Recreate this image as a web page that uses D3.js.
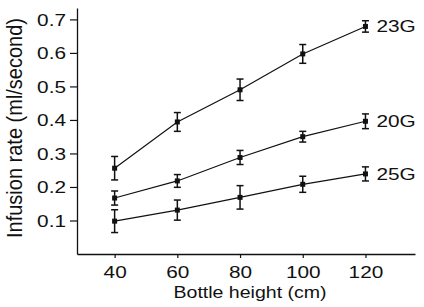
<!DOCTYPE html>
<html>
<head>
<meta charset="utf-8">
<script src="https://cdn.jsdelivr.net/npm/d3@7"></script>
<style>
  html, body { margin: 0; padding: 0; background: #fff; }
  svg { display: block; font-family: "Liberation Sans", Arial, Helvetica, sans-serif; }
</style>
</head>
<body>
<svg id="chart" width="424" height="307"></svg>
<script>
// ---- Data ----
const heights = [40, 60, 80, 100, 120];
const seriesNames = ["23G", "20G", "25G"];
const rate23G = [0.256, 0.394, 0.490, 0.597, 0.679];
const err23G  = [0.035, 0.028, 0.032, 0.028, 0.017];
const rate20G = [0.167, 0.218, 0.288, 0.350, 0.396];
const err20G  = [0.021, 0.019, 0.021, 0.016, 0.022];
const rate25G = [0.098, 0.131, 0.169, 0.208, 0.239];
const err25G  = [0.034, 0.030, 0.035, 0.024, 0.021];
const xTicks = [40, 60, 80, 100, 120];
const yTicks = [0.1, 0.2, 0.3, 0.4, 0.5, 0.6, 0.7];
const xTitle = "Bottle height (cm)";
const yTitle = "Infusion rate (ml/second)";

const series = [
  { name: seriesNames[0], values: rate23G, errs: err23G },
  { name: seriesNames[1], values: rate20G, errs: err20G },
  { name: seriesNames[2], values: rate25G, errs: err25G }
];

// ---- Layout ----
const svg = d3.select("#chart");
const x = d3.scaleLinear().domain([28, 135.8]).range([77, 415]);
const y = d3.scaleLinear().domain([0, 0.734]).range([254, 8]);
const ink = "#111";
const SX = 1.3;   // horizontal stretch of small labels
const ST = 1.15;  // horizontal stretch of titles

// Y axis
const yAxis = svg.append("g")
  .attr("transform", `translate(${x.range()[0]},0)`)
  .call(d3.axisLeft(y).tickValues(yTicks).tickSize(7).tickSizeOuter(0).tickFormat(d3.format(".1f")));
yAxis.select(".domain").attr("stroke", ink).attr("stroke-width", 1.3);
yAxis.selectAll(".tick line").attr("stroke", ink).attr("stroke-width", 1.2);
yAxis.selectAll(".tick text")
  .attr("x", -11 / SX)
  .attr("dy", "0.36em")
  .attr("transform", `scale(${SX},1)`)
  .attr("fill", ink)
  .style("font-size", "16px")
  .style("font-family", "'Liberation Sans', Arial, sans-serif");

// X axis
const xAxis = svg.append("g")
  .attr("transform", `translate(0,${y.range()[0]})`)
  .call(d3.axisBottom(x).tickValues(xTicks).tickSize(4).tickSizeOuter(0));
xAxis.select(".domain").attr("stroke", ink).attr("stroke-width", 1.3);
xAxis.selectAll(".tick line").attr("stroke", ink).attr("stroke-width", 1.2);
xAxis.selectAll(".tick text")
  .attr("y", 24.5)
  .attr("dy", "0")
  .attr("transform", `scale(${SX},1)`)
  .attr("fill", ink)
  .style("font-size", "16px")
  .style("font-family", "'Liberation Sans', Arial, sans-serif");

// Lines
const line = d3.line().x((d, i) => x(heights[i])).y(d => y(d));
const g = svg.append("g");
series.forEach(s => {
  g.append("path")
    .attr("d", line(s.values))
    .attr("fill", "none")
    .attr("stroke", ink)
    .attr("stroke-width", 1.2);

  const pts = g.selectAll(null).data(s.values.map((v, i) => ({ h: heights[i], v, e: s.errs[i] })))
    .enter().append("g");
  // error bars
  pts.append("line")
    .attr("x1", d => x(d.h)).attr("x2", d => x(d.h))
    .attr("y1", d => y(d.v - d.e)).attr("y2", d => y(d.v + d.e))
    .attr("stroke", ink).attr("stroke-width", 1.5);
  pts.append("line")
    .attr("x1", d => x(d.h) - 3.5).attr("x2", d => x(d.h) + 3.5)
    .attr("y1", d => y(d.v + d.e)).attr("y2", d => y(d.v + d.e))
    .attr("stroke", ink).attr("stroke-width", 1.5);
  pts.append("line")
    .attr("x1", d => x(d.h) - 3.5).attr("x2", d => x(d.h) + 3.5)
    .attr("y1", d => y(d.v - d.e)).attr("y2", d => y(d.v - d.e))
    .attr("stroke", ink).attr("stroke-width", 1.5);
  // markers
  pts.append("rect")
    .attr("x", d => x(d.h) - 2.5).attr("y", d => y(d.v) - 2.5)
    .attr("width", 5).attr("height", 5)
    .attr("fill", ink);

  // series label
  const last = s.values.length - 1;
  const lx = x(heights[last]) + 11;
  const ly = y(s.values[last]);
  g.append("text")
    .attr("transform", `translate(${lx},${ly}) scale(${SX},1)`)
    .attr("dy", "0.36em")
    .attr("fill", ink)
    .style("font-size", "16px")
    .text(s.name);
});

// Titles
svg.append("text")
  .attr("transform", `translate(250,297.5) scale(${ST},1)`)
  .attr("text-anchor", "middle")
  .attr("fill", ink)
  .style("font-size", "17px")
  .text(xTitle);

svg.append("text")
  .attr("transform", `translate(21.5,128) scale(1.12,1) rotate(-90)`)
  .attr("text-anchor", "middle")
  .attr("fill", ink)
  .style("font-size", "20px")
  .text(yTitle);
</script>
</body>
</html>
